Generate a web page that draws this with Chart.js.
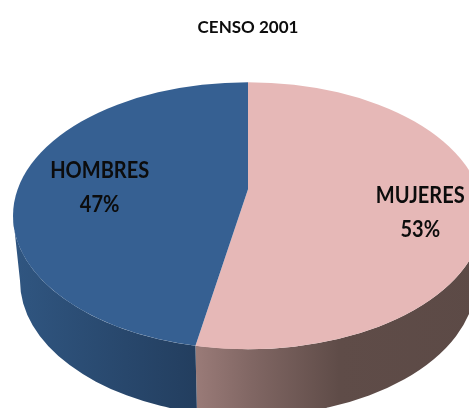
<!DOCTYPE html>
<html><head><meta charset="utf-8">
<style>html,body{margin:0;padding:0;background:#fff;overflow:hidden}canvas{display:block}</style>
<script src="https://cdn.jsdelivr.net/npm/chart.js@4"></script></head>
<body><canvas id="c" width="469" height="408"></canvas>
<script>
const categories = ['MUJERES', 'HOMBRES'];
const values = [53, 47];
const topColors = ['#e6b8b7', '#366092'];
const sideStops = [
  [[0, '#9a7b78'], [0.2, '#806663'], [0.5, '#5f4c48'], [1, '#5c4a46']],
  [[0, '#305681'], [1, '#233e5f']]
];
const titleText = 'CENSO 2001';
const FONT = 'Lato, "Open Sans", sans-serif';
const TILT = 133.5 / 235;      // flattening of the disc
const RIM_RX = 235, RIM_RY = 133.5, RIM_DROP = 26.5; // visible rim relative to the perspective apex
const BASE_RX = 228, BASE_RY = 135.5, BASE_DROP = 65;  // lower rim relative to the upper rim
const labelRadius = [173, 149], labelDrop = [14, 6.5];
const LABEL_CONDENSE = 0.91;

// Where the ray leaving the apex at chart angle a meets the rim, as an ellipse parameter.
function rimAngle(a) {
  if (Math.abs(Math.cos(a)) < 1e-9) return a;
  const dx = Math.cos(a) / RIM_RX, dy = TILT * Math.sin(a) / RIM_RY, oy = -RIM_DROP / RIM_RY;
  const A = dx * dx + dy * dy, B = 2 * oy * dy, C = oy * oy - 1;
  const t = (-B + Math.sqrt(B * B - 4 * A * C)) / (2 * A);
  let p = Math.atan2(oy + t * dy, t * dx);
  if (p < -Math.PI / 2) p += Math.PI * 2;
  return p;
}

const pie3d = {
  id: 'pie3d',
  beforeDatasetsDraw(chart) {
    const ctx = chart.ctx;
    const arcs = chart.getDatasetMeta(0).data;
    const cx = arcs[0].x, cy = arcs[0].y + RIM_DROP;
    arcs.forEach((arc, i) => {
      const from = Math.max(rimAngle(arc.startAngle), 0);
      const to = Math.min(rimAngle(arc.endAngle), Math.PI);
      if (to <= from) return;
      const x1 = cx + RIM_RX * Math.cos(to), x2 = cx + RIM_RX * Math.cos(from);
      const g = ctx.createLinearGradient(x1, 0, x2, 0);
      sideStops[i].forEach(([o, c]) => g.addColorStop(o, c));
      ctx.beginPath();
      ctx.ellipse(cx, cy, RIM_RX, RIM_RY, 0, from, to);
      ctx.ellipse(cx, cy + BASE_DROP, BASE_RX, BASE_RY, 0, to, from, true);
      ctx.closePath();
      ctx.fillStyle = g;
      ctx.fill();
    });
  },
  beforeDatasetDraw(chart) {
    const ctx = chart.ctx, a = chart.getDatasetMeta(0).data[0];
    ctx.save();
    ctx.beginPath();
    ctx.ellipse(a.x, a.y + RIM_DROP, RIM_RX, RIM_RY, 0, 0, Math.PI * 2);
    ctx.clip();
    ctx.translate(a.x, a.y);
    ctx.scale(1, TILT);
    ctx.translate(-a.x, -a.y);
  },
  afterDatasetDraw(chart) { chart.ctx.restore(); },
  afterDatasetsDraw(chart) {
    const ctx = chart.ctx;
    const arcs = chart.getDatasetMeta(0).data;
    ctx.save();
    ctx.font = 'bold 22px ' + FONT;
    ctx.fillStyle = '#0c0c0c';
    ctx.textAlign = 'center';
    ctx.textBaseline = 'middle';
    const put = (t, x, y) => ctx.fillText(t, x, y, ctx.measureText(t).width * LABEL_CONDENSE);
    arcs.forEach((arc, i) => {
      const mid = (arc.startAngle + arc.endAngle) / 2;
      const x = arc.x + labelRadius[i] * Math.cos(mid);
      const y = arc.y + labelRadius[i] * TILT * Math.sin(mid) + labelDrop[i];
      put(categories[i], x, y - 17);
      put(values[i] + '%', x, y + 17);
    });
    ctx.restore();
  }
};

new Chart(document.getElementById('c'), {
  type: 'pie',
  data: { labels: categories, datasets: [{ data: values, backgroundColor: topColors, borderWidth: 0, radius: 320, clip: false }] },
  options: {
    responsive: false, animation: false,
    layout: { padding: { left: 27, top: 17, bottom: 67 } },
    plugins: {
      legend: { display: false }, tooltip: { enabled: false },
      title: { display: true, text: titleText, color: '#0c0c0c', font: { family: FONT, size: 17, weight: 'bold' }, padding: { top: 0, bottom: 0 } }
    }
  },
  plugins: [pie3d]
});
</script></body></html>
